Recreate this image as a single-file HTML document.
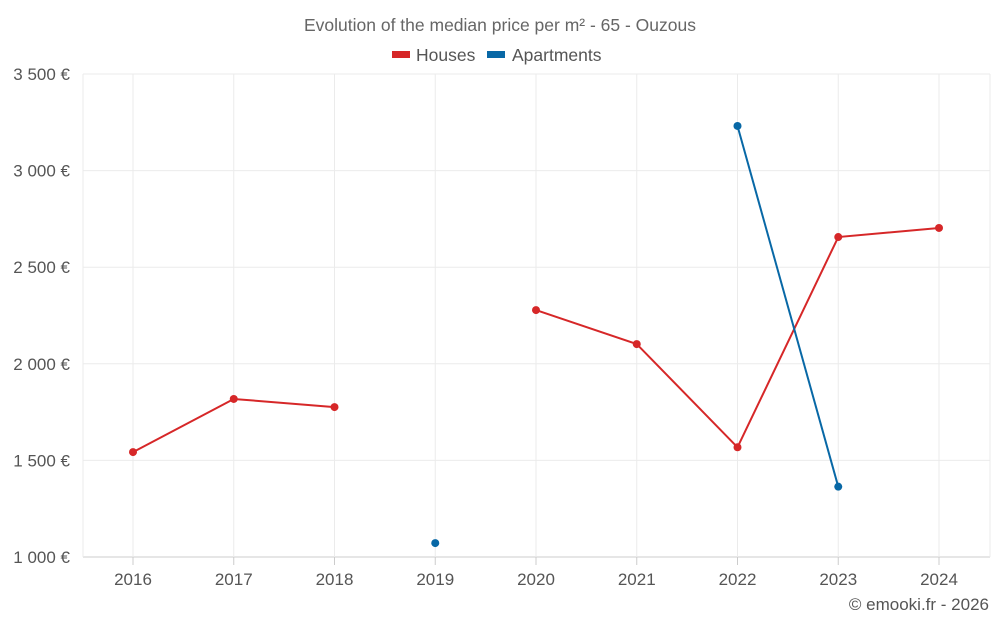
<!DOCTYPE html>
<html><head><meta charset="utf-8"><style>
body{margin:0;background:#fff;font-family:"Liberation Sans",sans-serif}
svg{display:block}
</style></head><body>
<svg id="c" width="1000" height="625" xmlns="http://www.w3.org/2000/svg">
<text x="500" y="31" text-anchor="middle" font-size="17.5" fill="#666">Evolution of the median price per m² - 65 - Ouzous</text>
<g><rect x="392" y="51" width="18" height="7" fill="#d62728"/><text x="416" y="61" font-size="17.5" fill="#555">Houses</text></g>
<g><rect x="487" y="51" width="18" height="7" fill="#0868a6"/><text x="512" y="61" font-size="17.5" fill="#555">Apartments</text></g>
<g id="grid"></g><g id="axes"></g><g id="series"></g>
<text x="989" y="610" text-anchor="end" font-size="17" fill="#555">© emooki.fr - 2026</text>
</svg>
<script>
const years=[2016,2017,2018,2019,2020,2021,2022,2023,2024];
const houses=[1543,1818,1776,null,2278,2102,1568,2656,2703];
const apartments=[null,null,null,1072,null,null,3231,1364,null];
const yTicks=[1000,1500,2000,2500,3000,3500];
const yTickLabels=["1 000 €","1 500 €","2 000 €","2 500 €","3 000 €","3 500 €"];
const NS="http://www.w3.org/2000/svg";
const x=i=>133+i*100.75;
const y=v=>557-(v-1000)*(483/2500);
function mk(t,a,p){const e=document.createElementNS(NS,t);for(const k in a)e.setAttribute(k,a[k]);p.appendChild(e);return e;}
const g=document.getElementById('grid'),ax=document.getElementById('axes'),s=document.getElementById('series');
yTicks.forEach((v,i)=>{
 const l=mk('line',{x1:83,x2:990,y1:y(v),y2:y(v),stroke:i==0?'#ccc':'#ebebeb'},g);
 
 
 const t=mk('text',{x:70,y:y(v)+6,'text-anchor':'end','font-size':17,fill:'#555'},ax);t.textContent=yTickLabels[i];
 
 
});
[83,990].forEach(px=>{const l=mk('line',{x1:px,x2:px,y1:74,y2:557,stroke:'#ebebeb'},g);
 
 });
years.forEach((yr,i)=>{
 const l=mk('line',{x1:x(i),x2:x(i),y1:74,y2:557,stroke:'#ebebeb'},g);
 
 
 const tk=mk('line',{x1:x(i),x2:x(i),y1:557,y2:565,stroke:'#ccc'},ax);
 
 
 const t=mk('text',{x:x(i),y:585,'text-anchor':'middle','font-size':17,fill:'#555'},ax);t.textContent=yr;
 
 
});
function draw(data,color,name){
 let seg=[];
 const flush=()=>{if(seg.length>1){const p=mk('polyline',{points:seg.join(' '),fill:'none',stroke:color,'stroke-width':2},s);
  
  }seg=[];};
 data.forEach((v,i)=>{if(v==null){flush();return;}seg.push(x(i)+','+y(v));});flush();
 data.forEach((v,i)=>{if(v==null)return;const c=mk('circle',{cx:x(i),cy:y(v),r:4,fill:color},s);
  
  });
}
draw(houses,'#d62728','houses');
draw(apartments,'#0868a6','apartments');
</script>
</body></html>
